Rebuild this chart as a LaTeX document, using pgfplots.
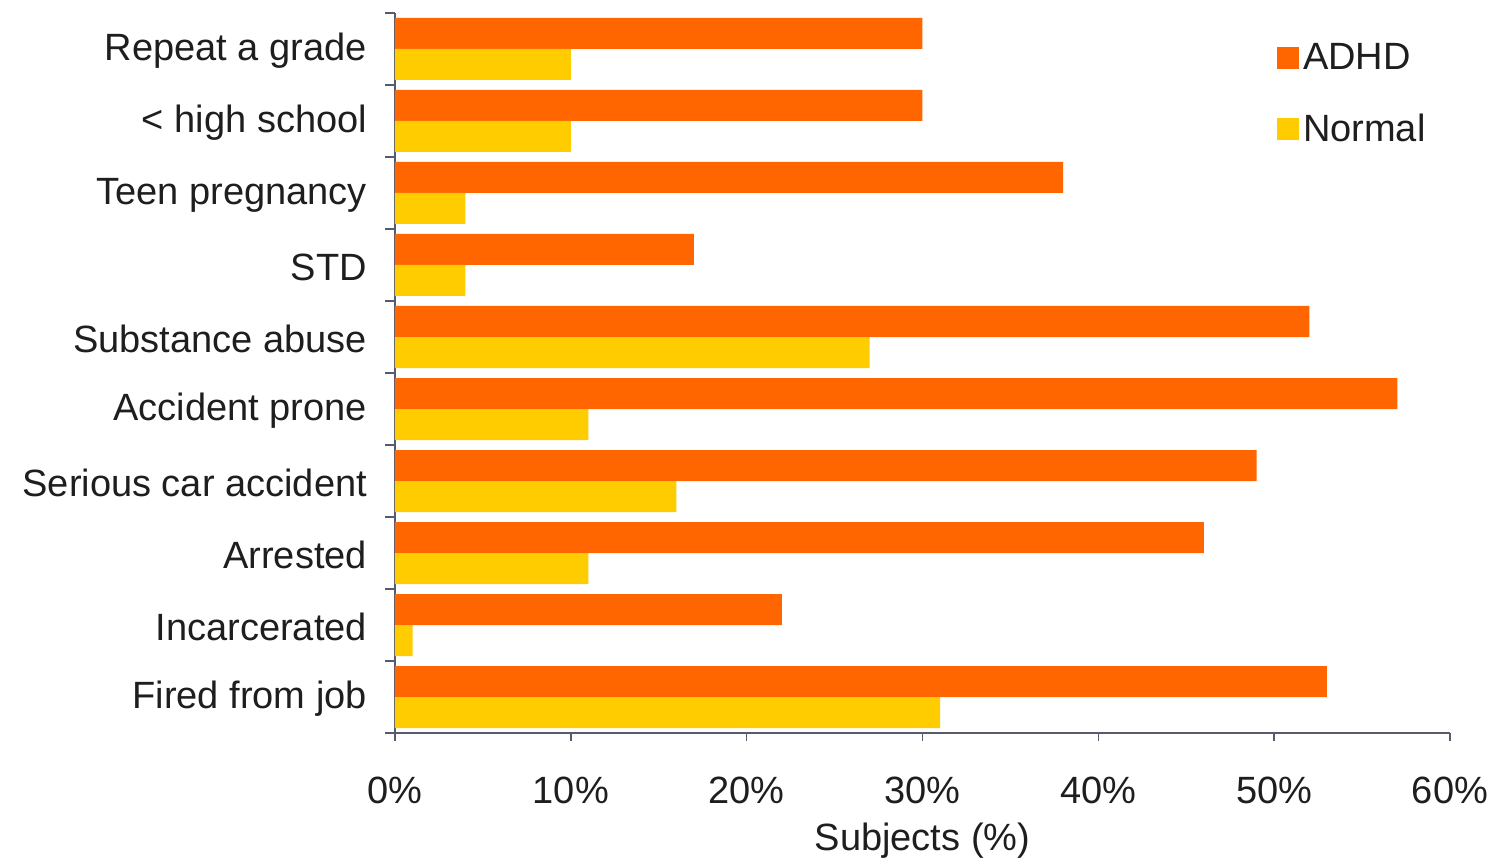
\documentclass[border=0pt]{standalone}
\usepackage{pgfplots}
\pgfplotsset{compat=1.18}
\usepackage{fontspec}
\setmainfont{Liberation Sans}
\definecolor{adhd}{HTML}{FF6600}
\definecolor{normal}{HTML}{FFCC00}
\definecolor{axisc}{RGB}{90,90,110}
\definecolor{txt}{RGB}{30,30,30}
\begin{document}
\begin{tikzpicture}
\path[use as bounding box] (-197.5pt,-64pt) rectangle (550pt,366.5pt);
\begin{axis}[
  at={(0pt,0pt)}, anchor=south west,
  scale only axis,
  width=527.5pt, height=360pt,
  xbar=0pt, bar width=15.5pt,
  xmin=0, xmax=60,
  ymin=-0.5, ymax=9.5,
  y dir=reverse,
  axis x line*=bottom, axis y line*=left,
  axis line style={axisc, line width=1pt},
  every tick/.style={axisc, line width=0.8pt},
  xtick={0,10,...,60},
  xticklabel={\pgfmathprintnumber{\tick}\%},
  /pgf/number format/assume math mode=true,
  ytick={0,...,9},
  yticklabels={Repeat a grade,{< high school},Teen pregnancy,STD,Substance abuse,Accident prone,Serious car accident,Arrested,Incarcerated,Fired from job},
  major y tick style={draw=none},
  minor ytick={-0.5,0.5,...,9.5},
  minor tick length=5pt,
  major tick length=4pt,
  tick align=outside,
  ticklabel style={font=\fontsize{19}{23}\selectfont, text=txt},
  yticklabel style={xshift=-6.5pt, yshift=-1pt},
  xticklabel style={yshift=-14.5pt},
  xlabel={Subjects (\%)},
  xlabel style={font=\fontsize{19}{23}\selectfont, text=txt, yshift=-2.5pt},
  legend style={at={(0.83,0.97)}, anchor=north west, draw=none, fill=none,
    font=\fontsize{19}{23}\selectfont, text=txt, row sep=17pt,
    /tikz/every even column/.append style={column sep=2pt}},
  legend image code/.code={\fill[#1] (0pt,-5.5pt) rectangle (11pt,5.5pt);},
  legend cell align=left,
  clip=false,
]
\addplot[fill=adhd, draw=none, bar shift=7.75pt] coordinates {(30,0) (30,1) (38,2) (17,3) (52,4) (57,5) (49,6) (46,7) (22,8) (53,9)};
\addplot[fill=normal, draw=none, bar shift=-7.75pt] coordinates {(10,0) (10,1) (4,2) (4,3) (27,4) (11,5) (16,6) (11,7) (1,8) (31,9)};
\legend{ADHD,Normal}
\end{axis}
\end{tikzpicture}
\end{document}
